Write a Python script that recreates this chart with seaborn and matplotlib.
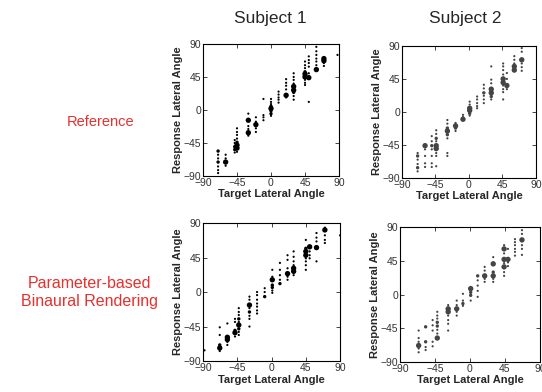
import numpy as np
import pandas as pd
import matplotlib
matplotlib.use("Agg")
import matplotlib.pyplot as plt
import seaborn as sns

# Subject 1, reference
s1_ref_tgt = [-70, -60, -48, -45, -30, -20, -10, 0, 10, 20, 30, 45, 50, 60, 70, 88]
s1_ref_resp = [[-56, -61, -66, -71, -77, -82, -86], [-61, -66, -71, -76],
               [-41, -45, -50, -54, -58], [-25, -30, -34, -39, -44, -48, -52, -57],
               [-5, -14, -22, -26, -31, -35], [-10, -16, -20, -25, -30],
               [15, -7, -10, -14], [15, 11, 8, 5, 2, -1, -5, -8],
               [25, 21, 17, 14, 10], [42, 37, 33, 28, 20, 17],
               [50, 45, 41, 36, 32, 27, 24, 19, 14], [66, 61, 57, 52, 49, 45, 41, 37, 34],
               [73, 68, 64, 59, 50, 44, 11], [86, 80, 75, 70, 66, 61, 55],
               [70, 67, 64, 60], [75]]
s1_ref_n = [[2, 1, 1, 2, 1, 1, 1], [1, 1, 3, 1], [1, 1, 2, 2, 1], [1, 1, 1, 1, 2, 3, 3, 1],
            [1, 3, 1, 1, 3, 1], [1, 1, 3, 1, 1], [1, 1, 1, 1], [1, 1, 1, 2, 3, 2, 2, 1],
            [1, 1, 1, 1, 1], [1, 1, 1, 1, 3, 1], [1, 1, 1, 1, 3, 3, 2, 1, 1],
            [1, 1, 1, 2, 3, 3, 1, 1, 1], [1, 1, 1, 1, 1, 3, 1], [1, 1, 1, 1, 1, 1, 3],
            [3, 3, 1, 1], [1]]

# Subject 2, reference
s2_ref_tgt = [-69, -59, -50, -44, -29, -18, -8, 1, 11, 20, 30, 46, 51, 61, 71]
s2_ref_resp = [[-56, -60, -65, -71, -76, -81], [-46, -51, -60, -70, -75],
               [-33, -40, -46, -51, -60, -70, -75], [-25, -30, -36, -40, -46, -50, -56, -60, -74],
               [-11, -16, -22, -26, -31, -36, -56, -60], [-15, -19, -22, -26],
               [-4, -7, -10], [14, 10, 5, 2, -2, -5], [21, 17, 12, 8, 5],
               [37, 32, 26, 22, 17, 12], [62, 44, 39, 31, 26, 21, 17],
               [66, 62, 57, 51, 45, 40, 36, 31, 27, 17], [53, 45, 36, 31],
               [76, 71, 66, 62, 57], [87, 82, 71, 66, 61, 56]]
s2_ref_n = [[1, 2, 1, 1, 2, 1], [3, 1, 1, 1, 1], [1, 1, 2, 1, 1, 1, 1],
            [1, 1, 2, 1, 3, 3, 1, 1, 1], [1, 1, 2, 3, 2, 1, 1, 1], [1, 3, 2, 1],
            [1, 1, 3], [1, 1, 3, 3, 2, 1], [1, 1, 1, 1, 1], [1, 1, 2, 1, 1, 1],
            [1, 1, 1, 3, 3, 2, 1], [1, 1, 1, 1, 3, 3, 1, 1, 1, 1], [1, 1, 3, 1],
            [1, 1, 1, 3, 3], [1, 1, 3, 1, 1, 1]]

# Subject 1, parameter-based binaural rendering
s1_pbr_tgt = [-88, -68, -58, -48, -43, -29, -19, -9, 1, 11, 21, 29, 45, 50, 59, 70, 90]
s1_pbr_resp = [[-76], [-46, -56, -69, -73, -77], [-41, -59, -62, -65, -69],
               [-35, -39, -50, -53, -58], [-21, -26, -30, -35, -39, -43, -48, -52, -56],
               [-6, -10, -17, -21, -26, -31, -35, -45], [0, -4, -10, -15, -19, -24, -28],
               [5, 0, -6], [29, 20, 16, 9, 6, 2, -1], [38, 29, 22, 16, 11],
               [48, 42, 31, 24, 20, 16], [53, 46, 40, 35, 31, 27, 22],
               [68, 57, 53, 48, 44, 40, 35, 29], [59, 53, 48, 44],
               [77, 71, 66, 58, 40], [84, 81, 74, 68, 64], [74]]
s1_pbr_n = [[1], [1, 1, 2, 3, 1], [1, 3, 3, 1, 1], [1, 1, 2, 3, 1],
            [1, 1, 1, 2, 1, 3, 2, 1, 1], [1, 1, 3, 1, 2, 1, 1, 1], [1, 1, 1, 1, 1, 1, 1],
            [1, 1, 2], [1, 1, 3, 2, 2, 1, 1], [1, 1, 1, 1, 2], [1, 1, 1, 3, 1, 1],
            [1, 1, 1, 1, 3, 3, 1], [1, 2, 3, 3, 1, 1, 1, 1], [3, 1, 1, 1],
            [1, 1, 1, 3, 1], [1, 3, 1, 1, 1], [1]]

# Subject 2, parameter-based binaural rendering
s2_pbr_tgt = [-66, -57, -48, -42, -28, -17, -9, 1, 10, 19, 30, 44, 49, 58, 67]
s2_pbr_resp = [[-48, -58, -63, -68, -72, -77], [-43, -63, -70, -74],
               [-34, -41, -48, -63, -69], [-23, -28, -32, -37, -42, -47, -52, -58],
               [-14, -19, -23, -28, -34, -39, -48], [-8, -14, -19, -23, -28],
               [1, -8, -12, -15], [8, 3, -1, -8], [25, 19, 12, 5, -3],
               [37, 32, 25, 21, 17], [50, 43, 41, 30, 25, 21, 17],
               [66, 61, 55, 47, 42, 37, 30, 25], [61, 47, 43, 38],
               [74, 70, 66, 61, 57, 52], [86, 81, 73, 66, 61, 53]]
s2_pbr_n = [[1, 1, 1, 3, 1, 1], [2, 2, 1, 1], [1, 1, 1, 1, 1], [1, 1, 1, 2, 2, 1, 1, 3],
            [1, 3, 3, 1, 1, 1, 1], [1, 1, 3, 1, 1], [1, 1, 2, 1], [3, 2, 2, 1],
            [2, 1, 1, 1, 1], [1, 1, 3, 1, 1], [1, 1, 3, 2, 3, 1, 1],
            [1, 3, 1, 3, 1, 3, 1, 1], [1, 3, 1, 1], [1, 1, 1, 1, 1, 1],
            [1, 1, 3, 1, 1, 1]]

ticks = [-90, -45, 0, 45, 90]


def to_frame(tgt, resp, n):
    rows = []
    for t, rs, ns in zip(tgt, resp, n):
        for r, c in zip(rs, ns):
            rows.append((t, r, c))
    return pd.DataFrame(rows, columns=['target', 'response', 'n'])


sns.set_style('ticks')
plt.rcParams['font.family'] = ['Liberation Sans', 'DejaVu Sans']

fig = plt.figure(figsize=(5.42, 3.92), dpi=100)

panels = [
    ([0.3745, 0.551, 0.251, 0.337], s1_ref_tgt, s1_ref_resp, s1_ref_n, 'black'),
    ([0.7417, 0.546, 0.247, 0.337], s2_ref_tgt, s2_ref_resp, s2_ref_n, '#444444'),
    ([0.3745, 0.079, 0.253, 0.352], s1_pbr_tgt, s1_pbr_resp, s1_pbr_n, 'black'),
    ([0.738, 0.0765, 0.258, 0.344], s2_pbr_tgt, s2_pbr_resp, s2_pbr_n, '#444444'),
]

for rect, tgt, resp, n, col in panels:
    ax = fig.add_axes(rect)
    df = to_frame(tgt, resp, n)
    sns.scatterplot(data=df, x='target', y='response', size='n',
                    sizes={1: 2.5, 2: 6, 3: 15}, color=col, linewidth=0,
                    legend=False, ax=ax)
    ax.set_xlim(-90, 90)
    ax.set_ylim(-90, 90)
    ax.set_xticks(ticks)
    ax.set_yticks(ticks)
    ax.tick_params(direction='in', length=3, width=0.6, top=True, right=True,
                   labelsize=7.5, labelcolor='#333333', pad=1.5)
    for sp in ax.spines.values():
        sp.set_linewidth(0.8)
        sp.set_color('black')
    ax.set_xlabel('Target Lateral Angle', fontsize=8, fontweight='bold', labelpad=1)
    ax.set_ylabel('Response Lateral Angle', fontsize=8, fontweight='bold', labelpad=0)

fig.text(0.498, 0.953, 'Subject 1', fontsize=12.5, ha='center', va='center')
fig.text(0.858, 0.953, 'Subject 2', fontsize=12.5, ha='center', va='center')
fig.text(0.185, 0.689, 'Reference', fontsize=10.5, color='#e8302e', ha='center', va='center')
fig.text(0.166, 0.255, 'Parameter-based\nBinaural Rendering', fontsize=11.5,
         color='#e8302e', ha='center', va='center', linespacing=1.25)

fig.savefig('out.png', dpi=100)
